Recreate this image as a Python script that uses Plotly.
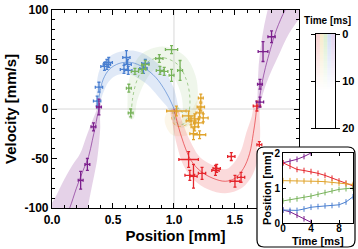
import numpy as np
import plotly.graph_objects as go

W, H = 358, 249
FONT = "Liberation Sans"

# ---------------- main data (position mm, velocity mm/s, errors) ----------------
blue_x = [0.37, 0.385, 0.43, 0.45, 0.465, 0.61, 0.62, 0.59, 0.625, 0.75, 0.765]
blue_y = [8, 22, 43, 45, 47, 52, 45, 40, 39, 41, 46]
blue_ex = [0.03, 0.03, 0.03, 0.03, 0.03, 0.03, 0.03, 0.03, 0.03, 0.03, 0.03]
blue_ey = [5, 5, 4, 5, 5, 7, 5, 4, 4, 5, 4]

green_x = [0.645, 0.63, 0.68, 0.74, 0.765, 0.88, 0.885, 0.92, 0.98, 0.98, 1.05]
green_y = [-4, 21, 38, 40, 45, 51, 39, 38, 34, 60, 39]
green_ex = [0.02, 0.02, 0.03, 0.03, 0.03, 0.03, 0.03, 0.03, 0.02, 0.05, 0.02]
green_ey = [4, 4, 3, 4, 4, 4, 4, 4, 6, 4, 10]

orange_x = [1.02, 1.12, 1.17, 1.20, 1.21, 1.22, 1.22, 1.17, 1.16, 1.21, 1.24, 1.14]
orange_y = [-2, -7, -10, -14, -4, 2, 11, -18, -25, -26, -9, -12]
orange_ex = [0.08, 0.05, 0.04, 0.04, 0.03, 0.03, 0.02, 0.03, 0.03, 0.05, 0.04, 0.04]
orange_ey = [5, 5, 5, 4, 4, 4, 4, 4, 6, 4, 4, 4]

red_x = [1.12, 1.13, 1.16, 1.23, 1.34, 1.35, 1.47, 1.50, 1.55, 1.70, 1.68]
red_y = [-51, -67, -68, -65, -62, -60, -48, -73, -69, -36, 3]
red_ex = [0.08, 0.04, 0.03, 0.03, 0.03, 0.03, 0.03, 0.04, 0.03, 0.02, 0.03]
red_ey = [8, 5, 12, 6, 5, 4, 4, 6, 5, 3, 5]

purple_x = [0.235, 0.29, 0.34, 0.385, 1.705, 1.705, 1.73, 1.80]
purple_y = [-72, -56, -18, 2, 7, 25, 58, 73]
purple_ex = [0.02, 0.02, 0.02, 0.02, 0.03, 0.02, 0.04, 0.03]
purple_ey = [9, 6, 4, 8, 5, 5, 10, 6]

# ---------------- fit curves (centre line) and band half-widths ----------------
purpleL_cx = [0.09, 0.145, 0.20, 0.255, 0.30, 0.33, 0.355, 0.37, 0.385, 0.39]
purpleL_cy = [-115, -100, -80, -62, -48, -32, -18, -8, 0, 6]
purpleL_w = [22, 18, 15, 12, 9, 7, 5, 3, 2, 1]

purpleR_cx = [1.685, 1.70, 1.72, 1.75, 1.79, 1.84, 1.91, 1.96]
purpleR_cy = [0, 10, 25, 42, 60, 80, 100, 112]
purpleR_w = [1, 2, 4, 7, 10, 13, 17, 19]

blue_cx = [0.37, 0.39, 0.42, 0.47, 0.55, 0.65, 0.75, 0.85, 0.93, 0.98, 1.01]
blue_cy = [0, 15, 30, 40, 46, 47, 42, 32, 18, 6, -3]
blue_w = [1, 3, 6, 9, 11, 12, 12, 11, 9, 6, 3]

green_cx = [0.65, 0.66, 0.70, 0.78, 0.90, 1.03, 1.10, 1.13, 1.12, 1.08, 1.03, 1.00, 1.03, 1.07]
green_cy = [-10, 10, 30, 47, 52, 45, 30, 12, -5, -15, -15, -6, 1, -4]
green_w = [2, 5, 8, 10, 11, 11, 10, 8, 6, 4, 3, 2, 1, 1]

orange_cx = [1.22, 1.18, 1.10, 1.02, 0.98, 1.00, 1.05]
orange_cy = [10, -5, -16, -17, -9, -2, -5]
orange_w = [2, 6, 10, 10, 7, 4, 2]

red_cx = [1.00, 1.03, 1.08, 1.14, 1.22, 1.32, 1.42, 1.50, 1.57, 1.62, 1.65, 1.67, 1.68]
red_cy = [0, -15, -35, -52, -63, -70, -73, -70, -60, -45, -25, -8, 5]
red_w = [3, 5, 7, 9, 11, 12, 12, 12, 11, 9, 7, 4, 2]

# ---------------- inset (time ms vs position mm) ----------------
t_ms = [0, 1, 2, 3, 4, 5, 6, 7, 8, 9, 10]
ins_blue = [0.37, 0.36, 0.36, 0.40, 0.45, 0.47, 0.49, 0.50, 0.52, 0.60, 0.75]
ins_green = [0.63, 0.66, 0.69, 0.73, 0.77, 0.82, 0.87, 0.92, 0.96, 0.98, 1.00]
ins_orange = [1.21, 1.21, 1.20, 1.20, 1.20, 1.19, 1.18, 1.16, 1.14, 1.12, 1.10]
ins_red = [1.72, 1.62, 1.53, 1.50, 1.47, 1.42, 1.36, 1.28, 1.20, 1.14, 1.06]
t_purple = [0, 1, 2, 3, 4]
ins_purple_top = [1.72, 1.76, 1.82, 1.90, 2.00]
ins_purple_bot = [0.37, 0.32, 0.22, 0.12, 0.02]
inset_xtitle = "Time [ms]"
inset_ytitle = "Position [mm]"

# colour bar
cb_times = list(np.arange(0, 20.5, 0.5))
cb_title = "Time [ms]"

x_ticks = [0, 0.5, 1.0, 1.5]
x_ticktext = ["0.0", "0.5", "1.0", "1.5"]
y_ticks = [-100, -50, 0, 50, 100]
y_ticktext = ["-100", "-50", "0", "50", "100"]

BLUE, GREEN, ORANGE, RED, PURPLE = "#4a7fd0", "#78b35b", "#e0a32b", "#e5262c", "#7c1f8d"


def rgba(hexc, a):
    h = hexc.lstrip("#")
    return "rgba(%d,%d,%d,%.3f)" % (int(h[0:2], 16), int(h[2:4], 16), int(h[4:6], 16), a)


def band_polygon(xs, ys, ws, sx=122.0, sy=0.99):
    X = np.array(xs, float) * sx
    Y = np.array(ys, float) * sy
    dx = np.gradient(X)
    dy = np.gradient(Y)
    n = np.hypot(dx, dy)
    nx, ny = -dy / n, dx / n
    w = np.array(ws, float)
    ux, uy = (X + nx * w) / sx, (Y + ny * w) / sy
    lx, ly = (X - nx * w) / sx, (Y - ny * w) / sy
    return list(ux) + list(lx[::-1]) + [ux[0]], list(uy) + list(ly[::-1]) + [uy[0]]


fig = go.Figure()

# bands
for cx, cy, w, col, a in [
    (green_cx, green_cy, green_w, GREEN, 0.12),
    (orange_cx, orange_cy, orange_w, ORANGE, 0.10),
    (blue_cx, blue_cy, blue_w, BLUE, 0.17),
    (red_cx, red_cy, red_w, RED, 0.17),
    (purpleL_cx, purpleL_cy, purpleL_w, PURPLE, 0.20),
    (purpleR_cx, purpleR_cy, purpleR_w, PURPLE, 0.20),
]:
    bx, by = band_polygon(cx, cy, w)
    fig.add_trace(go.Scatter(x=bx, y=by, mode="lines", fill="toself",
                             fillcolor=rgba(col, a), line=dict(width=0, shape="spline"),
                             hoverinfo="skip", showlegend=False))

# centre curves
for cx, cy, col, dash in [
    (green_cx, green_cy, GREEN, "dot"),
    (orange_cx, orange_cy, ORANGE, "dot"),
    (blue_cx, blue_cy, BLUE, "solid"),
    (red_cx, red_cy, RED, "solid"),
    (purpleL_cx, purpleL_cy, PURPLE, "solid"),
    (purpleR_cx, purpleR_cy, PURPLE, "solid"),
]:
    fig.add_trace(go.Scatter(x=cx, y=cy, mode="lines",
                             line=dict(color=rgba(col, 0.8), width=0.8, shape="spline", dash=dash),
                             hoverinfo="skip", showlegend=False))

# data points with error bars
for xs, ys, ex, ey, col in [
    (blue_x, blue_y, blue_ex, blue_ey, BLUE),
    (green_x, green_y, green_ex, green_ey, GREEN),
    (orange_x, orange_y, orange_ex, orange_ey, ORANGE),
    (red_x, red_y, red_ex, red_ey, RED),
    (purple_x, purple_y, purple_ex, purple_ey, PURPLE),
]:
    fig.add_trace(go.Scatter(x=xs, y=ys, mode="markers",
                             marker=dict(size=2, color=col),
                             error_x=dict(type="data", array=ex, color=col, thickness=1.3, width=1.5),
                             error_y=dict(type="data", array=ey, color=col, thickness=1.3, width=1.5),
                             showlegend=False))

# cover subplot (white background under inset box)
fig.add_trace(go.Scatter(x=[0], y=[0], mode="markers", marker=dict(size=0, opacity=0),
                         xaxis="x2", yaxis="y2", hoverinfo="skip", showlegend=False))

# inset lines
for ys, col in [(ins_purple_top, PURPLE), (ins_purple_bot, PURPLE)]:
    fig.add_trace(go.Scatter(x=t_purple, y=ys, mode="lines+markers", xaxis="x3", yaxis="y3",
                             line=dict(color=col, width=1),
                             marker=dict(symbol="line-ns", size=4, line=dict(color=col, width=1)),
                             showlegend=False))
for ys, col in [(ins_red, RED), (ins_orange, ORANGE), (ins_green, GREEN), (ins_blue, BLUE)]:
    fig.add_trace(go.Scatter(x=t_ms, y=ys, mode="lines+markers", xaxis="x3", yaxis="y3",
                             line=dict(color=col, width=1),
                             marker=dict(symbol="line-ns", size=4, line=dict(color=col, width=1)),
                             showlegend=False))

# colour bar columns
pastels = ["#f8d2d2", "#f7ebcc", "#dcefd2", "#d4def6", "#e3d3ef"]
for i, pc in enumerate(pastels):
    fig.add_trace(go.Heatmap(x=[i], y=cb_times, z=[[t] for t in cb_times],
                             colorscale=[[0, pc], [0.6, "#ffffff"], [1, "#ffffff"]],
                             zmin=0, zmax=20, showscale=False, xaxis="x4", yaxis="y4",
                             hoverinfo="skip"))

tf = dict(family=FONT, size=12, color="black", weight="bold")
main_ax = dict(showline=True, linecolor="black", linewidth=1.2, mirror="allticks",
               ticks="inside", ticklen=5, tickcolor="black", showgrid=False, zeroline=False,
               tickfont=tf)
inset_font = dict(family=FONT, size=11, color="black", weight="bold")
inset_tick_font = dict(family=FONT, size=10, color="black", weight="bold")

fig.update_layout(
    width=W, height=H, margin=dict(l=0, r=0, t=0, b=0),
    paper_bgcolor="white", plot_bgcolor="white", template="none",
    xaxis=dict(main_ax, domain=[52 / W, 299 / W], range=[0, 2.025], tickvals=x_ticks, ticktext=x_ticktext,
               minor=dict(dtick=0.1, ticks="inside", ticklen=3, tickcolor="black"),
               title=dict(text="Position [mm]", font=dict(family=FONT, size=15, color="black", weight="bold"),
                          standoff=4), anchor="y"),
    yaxis=dict(main_ax, domain=[1 - 208 / H, 1 - 10 / H], range=[-100, 100], tickvals=y_ticks,
               ticktext=y_ticktext,
               minor=dict(dtick=10, ticks="inside", ticklen=3, tickcolor="black"),
               title=dict(text="Velocity [mm/s]", font=dict(family=FONT, size=15, color="black", weight="bold"),
                          standoff=4), anchor="x"),
    xaxis2=dict(domain=[257 / W, 355 / W], visible=False, anchor="y2", range=[0, 1]),
    yaxis2=dict(domain=[1 - 247 / H, 1 - 147 / H], visible=False, anchor="x2", range=[0, 1]),
    xaxis3=dict(domain=[283 / W, 353 / W], range=[0, 10], tickvals=[0, 4, 8], anchor="y3",
                showline=True, linecolor="black", linewidth=1, mirror="allticks", ticks="inside",
                ticklen=3, tickcolor="black", showgrid=False, zeroline=False,
                tickfont=inset_tick_font, ticklabelstandoff=-4),
    yaxis3=dict(domain=[1 - 223 / H, 1 - 153 / H], range=[0, 2], tickvals=[0, 1, 2], anchor="x3",
                showline=True, linecolor="black", linewidth=1, mirror="allticks", ticks="inside",
                ticklen=3, tickcolor="black", showgrid=False, zeroline=False,
                tickfont=inset_tick_font),
    xaxis4=dict(domain=[316 / W, 335 / W], range=[-0.5, 4.5], anchor="y4", showticklabels=False,
                ticks="", showline=True, linecolor="black", linewidth=1, mirror=True,
                showgrid=False, zeroline=False),
    yaxis4=dict(domain=[1 - 128 / H, 1 - 34 / H], range=[20, 0], anchor="x4", side="right",
                tickvals=[0, 10, 20], ticks="outside", ticklen=4, tickcolor="black",
                showline=True, linecolor="black", linewidth=1, mirror="allticks",
                showgrid=False, zeroline=False,
                tickfont=dict(family=FONT, size=11, color="black", weight="bold")),
)

# light reference lines
fig.add_shape(type="line", xref="x", yref="y", x0=1.0, x1=1.0, y0=-100, y1=100,
              line=dict(color="#d8d8d8", width=1), layer="below")
fig.add_shape(type="line", xref="x", yref="y", x0=0, x1=2.025, y0=0, y1=0,
              line=dict(color="#d8d8d8", width=1), layer="below")

# rounded inset frame
x0, x1, y0, y1, r = 257, 355, 147, 247, 7


def P(x, y):
    return "%.5f,%.5f" % (x / W, 1 - y / H)


path = ("M " + P(x0 + r, y0) + " L " + P(x1 - r, y0) + " Q " + P(x1, y0) + " " + P(x1, y0 + r) +
        " L " + P(x1, y1 - r) + " Q " + P(x1, y1) + " " + P(x1 - r, y1) +
        " L " + P(x0 + r, y1) + " Q " + P(x0, y1) + " " + P(x0, y1 - r) +
        " L " + P(x0, y0 + r) + " Q " + P(x0, y0) + " " + P(x0 + r, y0) + " Z")
fig.add_shape(type="path", xref="paper", yref="paper", path=path,
              line=dict(color="black", width=1.2), layer="above")

fig.add_annotation(text=cb_title, xref="paper", yref="paper", x=327 / W, y=1 - 21 / H,
                   showarrow=False, xanchor="center", yanchor="middle",
                   font=dict(family=FONT, size=10, color="black", weight="bold"))
fig.add_annotation(text=inset_xtitle, xref="paper", yref="paper", x=318 / W, y=1 - 241 / H,
                   showarrow=False, xanchor="center", yanchor="middle", font=inset_font)
fig.add_annotation(text=inset_ytitle, xref="paper", yref="paper", x=267 / W, y=1 - 188 / H,
                   showarrow=False, xanchor="center", yanchor="middle", textangle=-90, font=inset_font)

fig.write_html("out.html", config={"displayModeBar": False},
               post_script="document.body.style.margin='0px';document.body.style.overflow='hidden';")
